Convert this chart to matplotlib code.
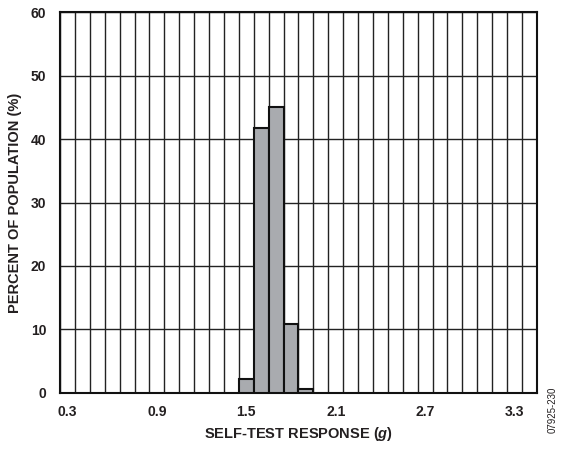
import matplotlib
matplotlib.use('Agg')
import matplotlib.pyplot as plt
import numpy as np

# Histogram data (bin centres in g, percent of population)
bin_centers = [1.5, 1.6, 1.7, 1.8, 1.9]
percent = [2.2, 41.7, 45.1, 10.8, 0.6]
bin_width = 0.1

x_ticks = [0.3, 0.9, 1.5, 2.1, 2.7, 3.3]
y_ticks = [0, 10, 20, 30, 40, 50, 60]

plt.rcParams['font.family'] = ['Liberation Sans', 'DejaVu Sans']
plt.rcParams['mathtext.fontset'] = 'custom'
plt.rcParams['mathtext.it'] = 'Liberation Sans:italic:bold'

fig = plt.figure(figsize=(5.61, 4.5), dpi=100)
ax = fig.add_axes([0.107, 0.127, 0.85, 0.846])

# Grid cells of width 0.1 centred on each 0.1 step
ax.set_xlim(0.25, 3.45)
ax.set_ylim(0, 60)
ax.set_xticks(np.arange(0.25, 3.451, 0.1), minor=True)
ax.set_xticks(x_ticks)
ax.set_yticks(y_ticks)
ax.grid(True, which='minor', axis='x', color='#222222', linewidth=1.0)
ax.grid(True, which='major', axis='y', color='#222222', linewidth=1.0)
ax.set_axisbelow(True)

ax.bar(bin_centers, percent, width=bin_width, color='#a9abaf',
       edgecolor='#111111', linewidth=1.5, zorder=3)

for s in ax.spines.values():
    s.set_linewidth(1.5)
    s.set_color('#111111')

ax.tick_params(which='both', length=0)
ax.tick_params(axis='x', pad=9)
ax.tick_params(axis='y', pad=10)
for lbl in ax.get_xticklabels() + ax.get_yticklabels():
    lbl.set_fontsize(10)
    lbl.set_fontweight('bold')
    lbl.set_color('#231f20')

ax.set_xlabel('SELF-TEST RESPONSE ($g$)', fontsize=10.5,
              fontweight='bold', color='#231f20', labelpad=4)
ax.set_ylabel('PERCENT OF POPULATION (%)', fontsize=10.5,
              fontweight='bold', color='#231f20', labelpad=6)

fig.text(0.985, 0.09, '07925-230', rotation=90, fontsize=7,
         color='#231f20', ha='center', va='center')

fig.savefig('out.png', dpi=100)
